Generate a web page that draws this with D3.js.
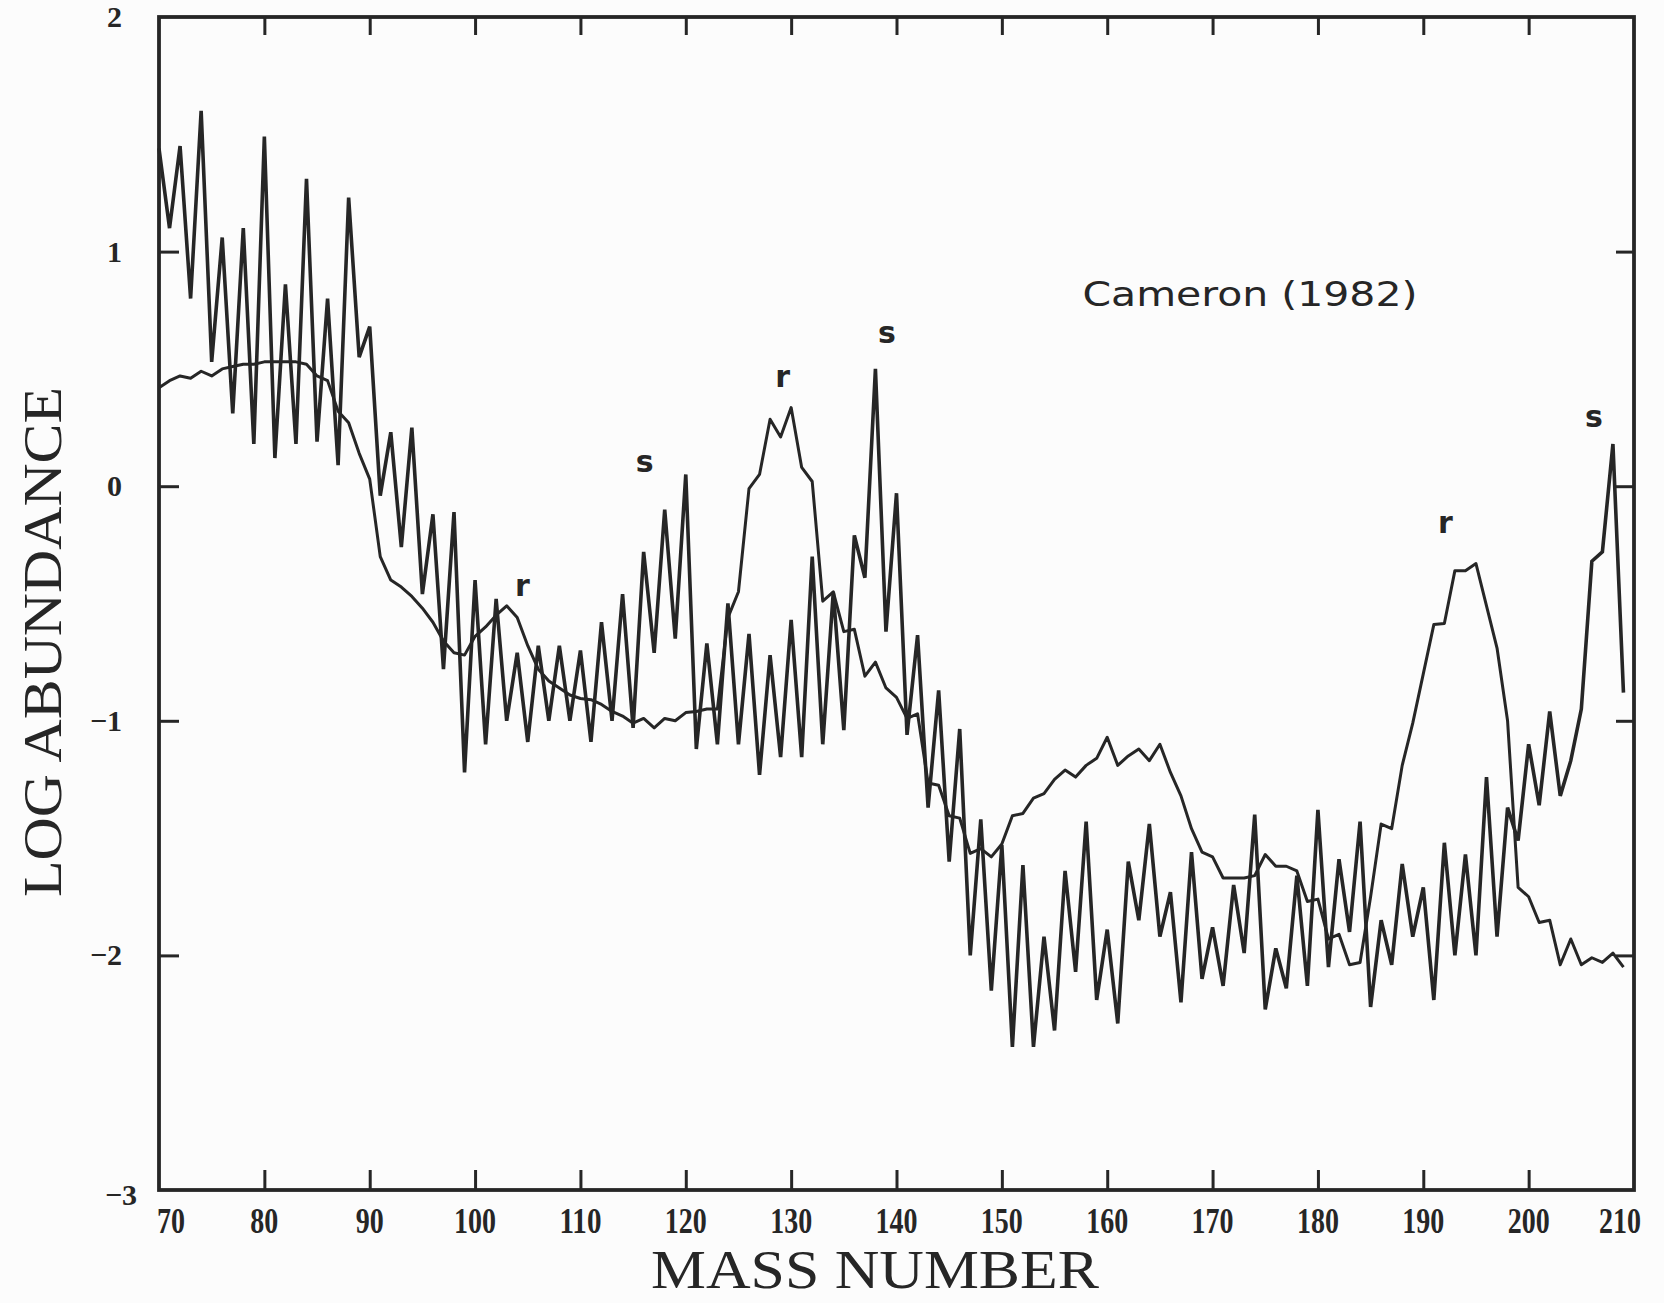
<!DOCTYPE html>
<html><head><meta charset="utf-8">
<script src="https://cdn.jsdelivr.net/npm/d3@7"></script>
<style>html,body{margin:0;padding:0;background:#fcfcfc;} svg{display:block}</style>
</head><body><svg id="chart" width="1664" height="1303"></svg>
<script>
// ---- data ----
const massNumbers = d3.range(70, 210);   // A = 70 ... 209
const jaggedSeries = [
  1.44, 1.10, 1.45, 0.80, 1.60, 0.53, 1.06, 0.31, 1.10, 0.18,
  1.49, 0.12, 0.86, 0.18, 1.31, 0.19, 0.80, 0.09, 1.23, 0.55,
  0.68, -0.04, 0.23, -0.26, 0.25, -0.46, -0.12, -0.78, -0.11, -1.22,
  -0.40, -1.10, -0.48, -1.00, -0.71, -1.09, -0.68, -1.00, -0.68, -1.00,
  -0.70, -1.09, -0.58, -1.00, -0.46, -1.03, -0.28, -0.71, -0.10, -0.65,
  0.05, -1.12, -0.67, -1.10, -0.50, -1.10, -0.63, -1.23, -0.72, -1.155,
  -0.57, -1.155, -0.30, -1.10, -0.45, -1.04, -0.21, -0.39, 0.50, -0.62,
  -0.03, -1.06, -0.635, -1.37, -0.87, -1.60, -1.035, -2.00, -1.42, -2.15,
  -1.53, -2.39, -1.615, -2.39, -1.92, -2.32, -1.64, -2.07, -1.43, -2.19,
  -1.89, -2.29, -1.60, -1.85, -1.44, -1.92, -1.73, -2.20, -1.56, -2.10,
  -1.88, -2.13, -1.70, -1.99, -1.40, -2.23, -1.97, -2.14, -1.66, -2.13,
  -1.38, -2.05, -1.59, -1.90, -1.43, -2.22, -1.85, -2.04, -1.61, -1.92,
  -1.71, -2.19, -1.52, -2.00, -1.57, -2.00, -1.24, -1.92, -1.37, -1.51,
  -1.10, -1.36, -0.96, -1.32, -1.17, -0.95, -0.32, -0.28, 0.18, -0.88
];
const smoothSeries = [
  0.42, 0.45, 0.47, 0.46, 0.49, 0.47, 0.50, 0.51, 0.52, 0.52,
  0.53, 0.53, 0.53, 0.53, 0.52, 0.47, 0.45, 0.32, 0.27, 0.14,
  0.03, -0.30, -0.40, -0.43, -0.47, -0.52, -0.58, -0.66, -0.71, -0.72,
  -0.64, -0.60, -0.55, -0.51, -0.56, -0.68, -0.78, -0.83, -0.86, -0.89,
  -0.905, -0.91, -0.93, -0.96, -0.98, -1.01, -0.99, -1.03, -0.99, -1.00,
  -0.965, -0.96, -0.95, -0.95, -0.56, -0.45, -0.01, 0.05, 0.285, 0.21,
  0.335, 0.08, 0.02, -0.49, -0.45, -0.62, -0.61, -0.81, -0.75, -0.86,
  -0.90, -0.99, -0.97, -1.265, -1.275, -1.405, -1.415, -1.565, -1.545, -1.58,
  -1.525, -1.405, -1.395, -1.33, -1.31, -1.25, -1.21, -1.24, -1.19, -1.16,
  -1.07, -1.19, -1.15, -1.12, -1.17, -1.10, -1.22, -1.32, -1.46, -1.56,
  -1.58, -1.67, -1.67, -1.67, -1.66, -1.57, -1.62, -1.62, -1.64, -1.77,
  -1.76, -1.93, -1.91, -2.04, -2.03, -1.75, -1.44, -1.46, -1.19, -1.01,
  -0.80, -0.59, -0.585, -0.36, -0.36, -0.33, -0.51, -0.69, -1.00, -1.71,
  -1.75, -1.86, -1.85, -2.04, -1.93, -2.04, -2.01, -2.03, -1.99, -2.05
];
const xTickValues = [70, 80, 90, 100, 110, 120, 130, 140, 150, 160, 170, 180, 190, 200, 210];
const yTickValues = [2, 1, 0, -1, -2, -3];
const peakMarks = ["r", "s", "r", "s", "r", "s"];
const peakMass  = [104.5, 116.1, 129.2, 139.1, 192.1, 206.2];
const peakValue = [-0.43, 0.10, 0.46, 0.65, -0.16, 0.29];
const sourceLabel = "Cameron (1982)";
const xTitle = "MASS NUMBER";
const yTitle = "LOG ABUNDANCE";

// ---- drawing ----
const svg = d3.select("#chart");
const ink = "#262626";
const x = d3.scaleLinear().domain([70, 210]).range([159, 1634]);
const y = d3.scaleLinear().domain([-3, 2]).range([1190, 17]);

const line = d3.line().x((d, i) => x(massNumbers[i])).y(d => y(d));

svg.append("path").datum(smoothSeries)
  .attr("d", line).attr("fill", "none").attr("stroke", ink)
  .attr("stroke-width", 3.0).attr("stroke-linejoin", "round");
svg.append("path").datum(jaggedSeries)
  .attr("d", line).attr("fill", "none").attr("stroke", ink)
  .attr("stroke-width", 3.6).attr("stroke-linejoin", "miter").attr("stroke-miterlimit", 3);

// frame
svg.append("rect").attr("x", x(70)).attr("y", y(2))
  .attr("width", x(210) - x(70)).attr("height", y(-3) - y(2))
  .attr("fill", "none").attr("stroke", ink).attr("stroke-width", 3.8);

// inward ticks via d3 axes
const innerX = xTickValues.filter(v => v > 70 && v < 210);
const innerY = yTickValues.filter(v => v > -3 && v < 2);
function styleAxis(g) {
  g.select(".domain").remove();
  g.selectAll(".tick line").attr("stroke", ink).attr("stroke-width", 3);
  g.selectAll(".tick text").remove();
}
svg.append("g").attr("transform", `translate(0,${y(-3)})`)
  .call(d3.axisBottom(x).tickValues(innerX).tickSize(-20).tickFormat("")).call(styleAxis);
svg.append("g").attr("transform", `translate(0,${y(2)})`)
  .call(d3.axisTop(x).tickValues(innerX).tickSize(-18).tickFormat("")).call(styleAxis);
svg.append("g").attr("transform", `translate(${x(70)},0)`)
  .call(d3.axisLeft(y).tickValues(innerY).tickSize(-20).tickFormat("")).call(styleAxis);
svg.append("g").attr("transform", `translate(${x(210)},0)`)
  .call(d3.axisRight(y).tickValues(innerY).tickSize(-18).tickFormat("")).call(styleAxis);

// tick labels
const labelFont = "'Liberation Serif', 'DejaVu Serif', serif";
const fmt = v => (v < 0 ? "\u2212" + Math.abs(v) : String(v));
svg.append("g").selectAll("text").data(xTickValues).join("text")
  .attr("x", d => x(d) + (d === 70 ? 12 : d === 210 ? -14 : 0))
  .attr("y", y(-3) + 43)
  .attr("text-anchor", "middle")
  .attr("font-family", labelFont).attr("font-weight", "bold")
  .attr("font-size", 36).attr("fill", ink)
  .attr("textLength", d => String(d).length * 14).attr("lengthAdjust", "spacingAndGlyphs")
  .text(d => d);
svg.append("g").selectAll("text").data(yTickValues).join("text")
  .attr("x", d => d === -3 ? 137 : 122)
  .attr("y", d => y(d) + (d === -3 ? 15 : 10))
  .attr("text-anchor", "end")
  .attr("font-family", labelFont).attr("font-weight", "bold")
  .attr("font-size", 30).attr("fill", ink)
  .text(fmt);

// axis titles
svg.append("text").attr("x", 875).attr("y", 1288)
  .attr("text-anchor", "middle").attr("font-family", labelFont)
  .attr("font-size", 54).attr("fill", ink)
  .attr("textLength", 448).attr("lengthAdjust", "spacingAndGlyphs")
  .text(xTitle);
svg.append("text")
  .attr("transform", `translate(61,642) rotate(-90)`)
  .attr("text-anchor", "middle").attr("font-family", labelFont)
  .attr("font-size", 54).attr("fill", ink)
  .attr("textLength", 510).attr("lengthAdjust", "spacingAndGlyphs")
  .text(yTitle);

// annotations
svg.append("text").attr("x", x(173.55)).attr("y", y(0.82) + 12)
  .attr("text-anchor", "middle").attr("font-family", "'DejaVu Sans', sans-serif")
  .attr("font-size", 34).attr("fill", ink)
  .attr("textLength", 335).attr("lengthAdjust", "spacingAndGlyphs")
  .text(sourceLabel);
svg.append("g").selectAll("text").data(peakMarks).join("text")
  .attr("x", (d, i) => x(peakMass[i]))
  .attr("y", (d, i) => y(peakValue[i]) + 9)
  .attr("text-anchor", "middle").attr("font-family", "'DejaVu Sans', sans-serif")
  .attr("font-weight", "bold").attr("font-size", 30).attr("fill", ink)
  .text(d => d);
</script></body></html>
